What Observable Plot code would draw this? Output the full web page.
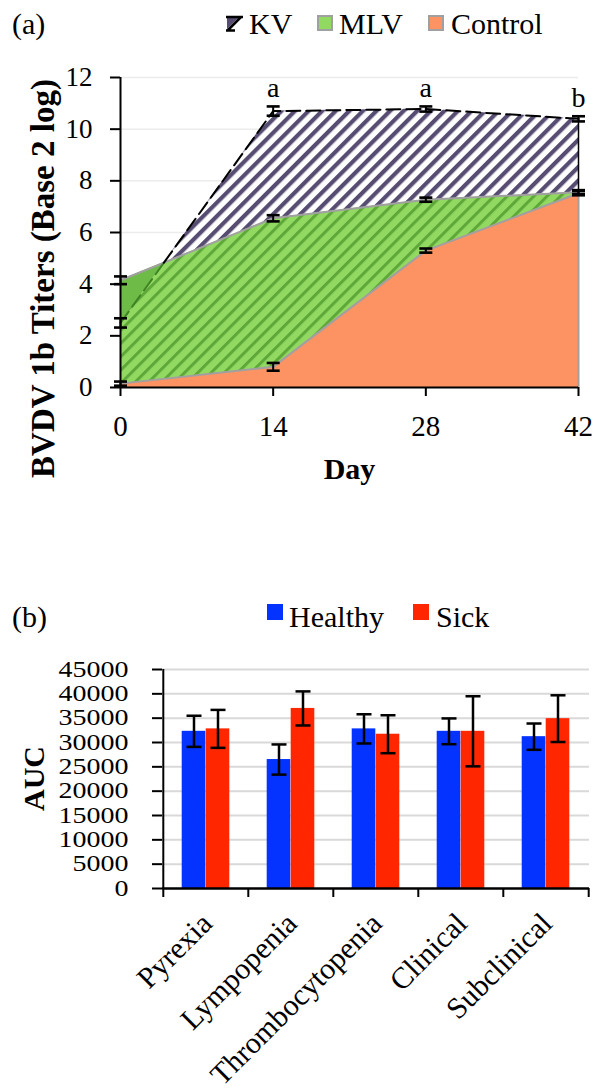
<!DOCTYPE html>
<html>
<head>
<meta charset="utf-8">
<script src="https://cdn.jsdelivr.net/npm/d3@7"></script>
<script src="https://cdn.jsdelivr.net/npm/@observablehq/plot@0.6"></script>
<style>
  body { margin: 0; background: #fff; }
  #page { position: relative; width: 597px; height: 1090px; overflow: hidden;
          font-family: "Liberation Serif", "Times New Roman", serif; color: #000; }
  .abs { position: absolute; line-height: 1; white-space: nowrap; }
  .tag { font-size: 30px; }
  .leg { font-size: 30px; }
  .sw { position: absolute; box-sizing: border-box; }
  #chartA, #chartB { position: absolute; left: 0; }
  #chartA { top: 50px; }
  #chartB { top: 640px; }
</style>
</head>
<body>
<div id="page">
  <div class="abs tag" style="left:12px;top:9px">(a)</div>
  <svg class="sw" style="left:226px;top:15px" width="17" height="17" viewBox="0 0 17 17">
    <rect x="0" y="0" width="17" height="17" fill="#fff"/>
    <polygon points="1,3 12,3 1,14" fill="#574d73"/>
    <path d="M0,2 H17 M15,2 L2,15 M0,15.5 H9" stroke="#000" stroke-width="2.6" fill="none"/>
  </svg>
  <div class="abs leg" style="left:249px;top:9px">KV</div>
  <div class="sw" style="left:317px;top:15px;width:16px;height:16px;background:#92d962;border:2px solid #a0a0a0"></div>
  <div class="abs leg" style="left:339px;top:9px">MLV</div>
  <div class="sw" style="left:428px;top:15px;width:16px;height:16px;background:#fd9262;border:2px solid #a0a0a0"></div>
  <div class="abs leg" style="left:451px;top:9px">Control</div>

  <div id="chartA"></div>

  <div class="abs tag" style="left:12px;top:602px">(b)</div>
  <div class="sw" style="left:267px;top:604px;width:16px;height:16px;background:#0433ff"></div>
  <div class="abs leg" style="left:289px;top:602px">Healthy</div>
  <div class="sw" style="left:413px;top:604px;width:16px;height:16px;background:#ff2600"></div>
  <div class="abs leg" style="left:436px;top:602px">Sick</div>

  <div id="chartB"></div>
</div>
<script>
// ---- (a) BVDV 1b antibody titers by vaccine group ----
const days = [0, 14, 28, 42];
const kvTiter = [2.5, 10.7, 10.78, 10.4];
const kvErr = [0.18, 0.18, 0.1, 0.1];
const mlvTiter = [4.15, 6.55, 7.27, 7.56];
const mlvErr = [0.15, 0.12, 0.08, 0.08];
const controlTiter = [0.15, 0.8, 5.3, 7.52];
const controlErr = [0.08, 0.15, 0.08, 0.08];
const dayLetters = ["", "a", "a", "b"];
const titerTicks = [0, 2, 4, 6, 8, 10, 12];

// ---- (b) area under the curve by clinical outcome ----
const conditions = ["Pyrexia", "Lympopenia", "Thrombocytopenia", "Clinical", "Subclinical"];
const healthyAUC = [32300, 26500, 32800, 32300, 31200];
const healthyErr = [3200, 3100, 3000, 2650, 2700];
const sickAUC = [32800, 37000, 31700, 32300, 34900];
const sickErr = [3900, 3500, 3900, 7200, 4800];
const aucTicks = [0, 5000, 10000, 15000, 20000, 25000, 30000, 35000, 40000, 45000];

const serif = "Liberation Serif, Times New Roman, serif";

// horizontal cap used for the error bars
const capSymbol = {
  draw(context, size) {
    const h = Math.sqrt(size / Math.PI);
    context.moveTo(-h, 0);
    context.lineTo(h, 0);
  }
};

const titers = days.map((day, i) => ({
  day, letter: dayLetters[i],
  kv: kvTiter[i], kvErr: kvErr[i],
  mlv: mlvTiter[i], mlvErr: mlvErr[i],
  control: controlTiter[i], controlErr: controlErr[i]
}));

// where the KV line rises above the MLV line in the first interval
const k0 = titers[0], k1 = titers[1];
const t = (k0.mlv - k0.kv) / ((k1.kv - k0.kv) - (k1.mlv - k0.mlv));
const cross = { day: k0.day + t * (k1.day - k0.day), value: k0.kv + t * (k1.kv - k0.kv) };
const wedge = [
  { day: k0.day, lo: k0.kv, hi: k0.mlv },
  { day: cross.day, lo: cross.value, hi: cross.value }
];
const kvLow = [{ day: k0.day, kv: k0.kv }, { day: cross.day, kv: cross.value }];
const kvHigh = [{ day: cross.day, kv: cross.value }, ...titers.slice(1)];

function errorMarks(key, errKey) {
  return [
    Plot.ruleX(titers, { x: "day", y1: d => d[key] - d[errKey], y2: d => d[key] + d[errKey], stroke: "#000", strokeWidth: 2 }),
    Plot.dot(titers, { x: "day", y: d => d[key] - d[errKey], symbol: capSymbol, r: 6.5, fill: "none", stroke: "#000", strokeWidth: 2.6 }),
    Plot.dot(titers, { x: "day", y: d => d[key] + d[errKey], symbol: capSymbol, r: 6.5, fill: "none", stroke: "#000", strokeWidth: 2.6 })
  ];
}

const last = titers[titers.length - 1];

const chartA = Plot.plot({
  width: 597, height: 450,
  marginTop: 27, marginBottom: 113, marginLeft: 120, marginRight: 19,
  style: { fontFamily: serif, fontSize: "26px", color: "#000", background: "transparent", overflow: "visible" },
  x: { domain: [0, 42] },
  y: { domain: [0, 12] },
  marks: [
    Plot.gridY(titerTicks.slice(1), { stroke: "#ececec", strokeOpacity: 1, strokeWidth: 1.5 }),
    Plot.areaY(titers, { x: "day", y: "kv", fill: "url(#kvHatch)" }),
    Plot.areaY(titers, { x: "day", y: "mlv", fill: "url(#mlvHatch)" }),
    Plot.areaY(wedge, { x: "day", y1: "lo", y2: "hi", fill: "#6fbb47" }),
    Plot.areaY(titers, { x: "day", y: "control", fill: "#fd9262" }),
    Plot.lineY(titers, { x: "day", y: "mlv", stroke: "#a0a0a0", strokeWidth: 2 }),
    Plot.lineY(titers, { x: "day", y: "control", stroke: "#a0a0a0", strokeWidth: 2 }),
    Plot.ruleX([last], { x: "day", y1: 0, y2: "control", stroke: "#a0a0a0", strokeWidth: 2 }),
    Plot.ruleX([last], { x: "day", y1: "mlv", y2: "kv", stroke: "#000", strokeWidth: 1.5 }),
    Plot.lineY(kvLow, { x: "day", y: "kv", stroke: "#3f8424", strokeWidth: 2, strokeDasharray: "14,6" }),
    Plot.lineY(kvHigh, { x: "day", y: "kv", stroke: "#000", strokeWidth: 2, strokeDasharray: "14,6" }),
    ...errorMarks("control", "controlErr"),
    ...errorMarks("mlv", "mlvErr"),
    ...errorMarks("kv", "kvErr"),
    Plot.ruleX([0], { y1: 0, y2: 12, stroke: "#000", strokeWidth: 2 }),
    Plot.ruleY([0], { x1: 0, x2: 42, stroke: "#000", strokeWidth: 2 }),
    Plot.axisY({ ticks: titerTicks, tickSize: 10, tickPadding: 18, fontSize: 27, label: null, strokeWidth: 2, tickFormat: d => String(d) }),
    Plot.axisX({ ticks: days, tickSize: 9, tickPadding: 19, fontSize: 29, label: null, strokeWidth: 2, tickFormat: d => String(d) }),
    Plot.text(titers, { x: "day", y: d => d.kv + d.kvErr, text: "letter", lineAnchor: "bottom", dy: -9, fontSize: 28 }),
    Plot.text(["BVDV 1b Titers (Base 2 log)"], { frameAnchor: "left", textAnchor: "middle", rotate: -90, dx: -77, dy: 46, fontSize: 33, fontWeight: "bold" }),
    Plot.text(["Day"], { frameAnchor: "bottom", dy: 91, fontSize: 30, fontWeight: "bold" })
  ]
});

// hatch fills used by the KV and MLV areas
const defs = d3.select(chartA).insert("defs", ":first-child");
const kvPat = defs.append("pattern").attr("id", "kvHatch").attr("patternUnits", "userSpaceOnUse")
  .attr("width", 9.6).attr("height", 9.6).attr("patternTransform", "rotate(45)");
kvPat.append("rect").attr("width", 9.6).attr("height", 9.6).attr("fill", "#fff");
kvPat.append("rect").attr("width", 4.2).attr("height", 9.6).attr("fill", "#574d73");
const mlvPat = defs.append("pattern").attr("id", "mlvHatch").attr("patternUnits", "userSpaceOnUse")
  .attr("width", 9.4).attr("height", 9.4).attr("patternTransform", "rotate(45)");
mlvPat.append("rect").attr("width", 9.4).attr("height", 9.4).attr("fill", "#92d962");
mlvPat.append("rect").attr("width", 3).attr("height", 9.4).attr("fill", "#5ea83a");

document.getElementById("chartA").append(chartA);

// ---- (b) ----
const outcomes = conditions.map((c, i) => ({
  condition: c,
  healthy: healthyAUC[i], healthyErr: healthyErr[i],
  sick: sickAUC[i], sickErr: sickErr[i]
}));

const widthB = 597, leftB = 162, rightB = 8;
const band = (widthB - leftB - rightB) / conditions.length;
const barW = 24;
const half = band / 2;

function aucErrors(key, errKey, dx) {
  return [
    Plot.ruleX(outcomes, { x: "condition", y1: d => d[key] - d[errKey], y2: d => d[key] + d[errKey], dx, stroke: "#000", strokeWidth: 2.5 }),
    Plot.dot(outcomes, { x: "condition", y: d => d[key] - d[errKey], dx, symbol: capSymbol, r: 7.5, fill: "none", stroke: "#000", strokeWidth: 2.5 }),
    Plot.dot(outcomes, { x: "condition", y: d => d[key] + d[errKey], dx, symbol: capSymbol, r: 7.5, fill: "none", stroke: "#000", strokeWidth: 2.5 })
  ];
}

const chartB = Plot.plot({
  width: widthB, height: 450,
  marginTop: 29, marginBottom: 202, marginLeft: leftB, marginRight: rightB,
  style: { fontFamily: serif, fontSize: "28px", color: "#000", background: "transparent", overflow: "visible" },
  x: { domain: conditions, padding: 0 },
  y: { domain: [0, 45000] },
  marks: [
    Plot.gridY(aucTicks.slice(1), { stroke: "#d9d9d9", strokeOpacity: 1, strokeWidth: 2 }),
    Plot.barY(outcomes, { x: "condition", y: "healthy", fill: "#0433ff", insetLeft: half - barW, insetRight: half }),
    Plot.barY(outcomes, { x: "condition", y: "sick", fill: "#ff2600", insetLeft: half, insetRight: half - barW }),
    ...aucErrors("healthy", "healthyErr", -barW / 2),
    ...aucErrors("sick", "sickErr", barW / 2),
    Plot.ruleX([conditions[0]], { x: d => d, y1: 0, y2: 45000, dx: -half, stroke: "#000", strokeWidth: 2 }),
    Plot.ruleY([0], { stroke: "#000", strokeWidth: 2.5 }),
    Plot.axisY({ ticks: aucTicks, tickSize: 10, tickPadding: 24, fontSize: 28, label: null, strokeWidth: 2, tickFormat: d => String(d) }),
    Plot.axisX({ ticks: conditions, tickSize: 9, dx: -half, label: null, strokeWidth: 2, tickFormat: () => "" }),
    Plot.axisX({ ticks: conditions.slice(-1), tickSize: 9, dx: half, label: null, strokeWidth: 2, tickFormat: () => "" }),
    Plot.axisX({ tickSize: 0, tickRotate: -45, tickPadding: 14, dx: 1, dy: 16, fontSize: 30, label: null })
  ]
});

// the AUC tick labels are set in a condensed height so the stacked numbers stay apart
d3.select(chartB).selectAll('g[aria-label="y-axis tick label"] text').each(function () {
  const el = d3.select(this);
  el.attr("transform", `${el.attr("transform") || ""} scale(1,0.8)`);
});

document.getElementById("chartB").append(chartB);

// "AUC" axis title
d3.select(chartB).append("text")
  .attr("transform", `translate(33, ${(29 + (450 - 202)) / 2}) rotate(-90)`)
  .attr("text-anchor", "middle").attr("dy", "0.35em")
  .attr("font-size", 30).attr("font-weight", "bold").attr("fill", "#000")
  .text("AUC");
</script>
</body>
</html>
